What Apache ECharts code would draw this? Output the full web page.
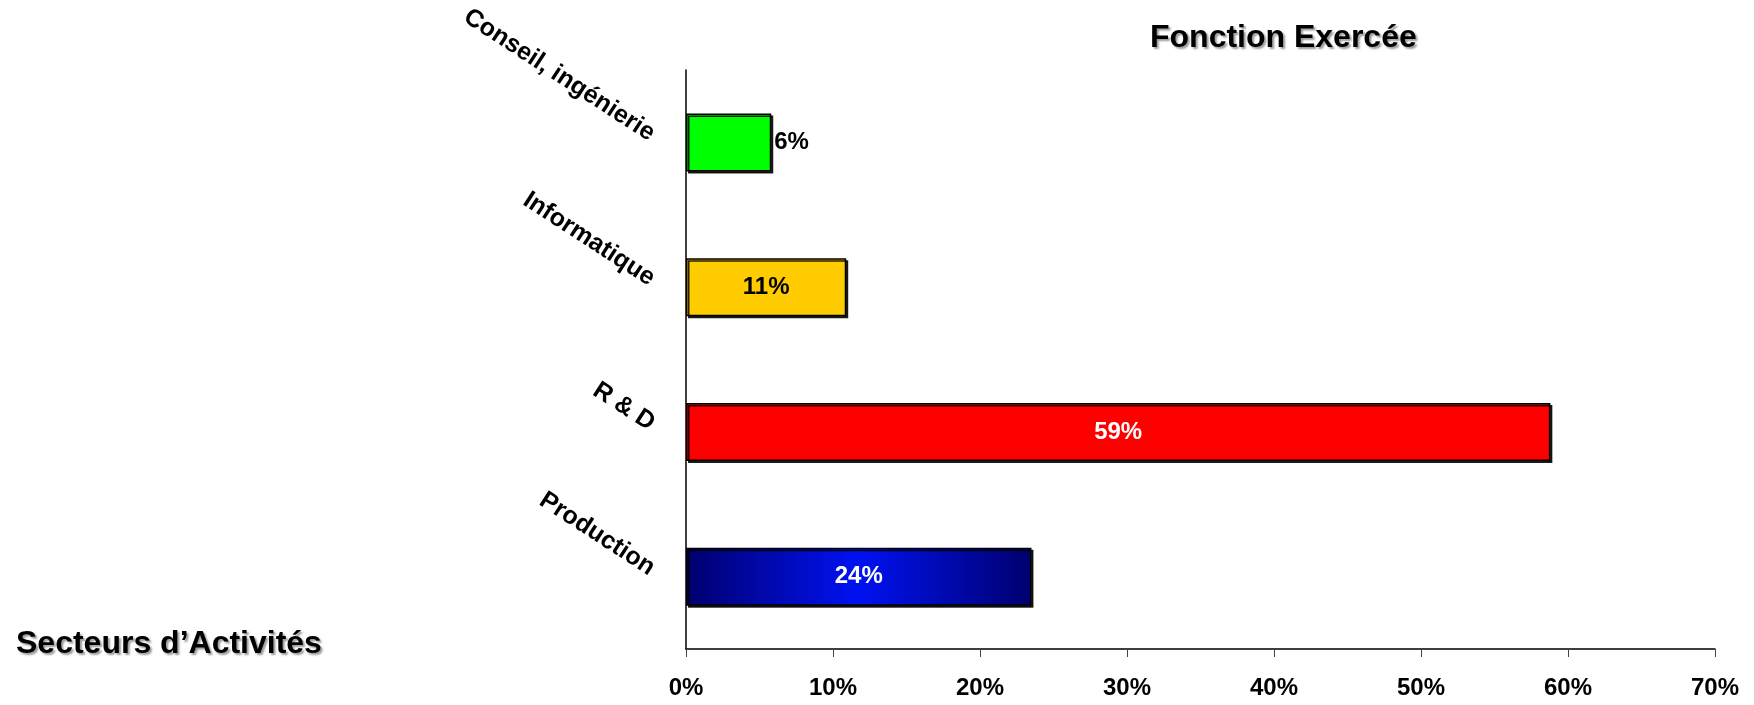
<!DOCTYPE html>
<html>
<head>
<meta charset="utf-8">
<script src="https://cdn.jsdelivr.net/npm/echarts@6/dist/echarts.min.js"></script>
<style>
  html, body { margin: 0; padding: 0; background: #fff; }
  #chart { width: 1754px; height: 705px; }
</style>
</head>
<body>
<div id="chart"></div>
<script>
// secteurs (haut -> bas)
const categories = ['Conseil, ingénierie', 'Informatique', 'R & D', 'Production']
const values = [5.8, 10.9, 58.8, 23.5]
const xTicks = [0, 10, 20, 30, 40, 50, 60, 70]

const font = 'Liberation Sans, Arial, sans-serif'

const barColors = [
  '#00ff00',
  '#ffcc00',
  '#ff0000',
  {
    type: 'linear', x: 0, y: 0, x2: 1, y2: 0,
    colorStops: [
      { offset: 0, color: '#00006e' },
      { offset: 0.5, color: '#0012f2' },
      { offset: 1, color: '#00006e' }
    ]
  }
]

const labelPos = ['right', 'inside', 'inside', 'inside']
const labelColor = ['#000', '#000', '#fff', '#fff']

const chart = echarts.init(document.getElementById('chart'))

const titleStyle = {
  fontFamily: font, fontSize: 32, fontWeight: 'bold', color: '#000', lineHeight: 32,
  textShadowColor: '#9a9a9a', textShadowOffsetX: 2, textShadowOffsetY: 2, textShadowBlur: 2
}

chart.setOption({
  animation: false,
  backgroundColor: '#fff',
  title: [{
    text: 'Fonction Exercée',
    left: 1150,
    top: 22,
    padding: 0,
    textStyle: titleStyle
  }, {
    text: 'Secteurs d’Activités',
    left: 16,
    top: 628,
    padding: 0,
    textStyle: titleStyle
  }],
  grid: { left: 686, right: 39, top: 70, bottom: 56, containLabel: false, outerBoundsMode: 'none' },
  xAxis: {
    type: 'value',
    min: xTicks[0],
    max: xTicks[xTicks.length - 1],
    interval: 10,
    splitLine: { show: false },
    axisLine: { show: true, lineStyle: { color: '#000', width: 1.5 } },
    axisTick: { show: true, length: 8, lineStyle: { color: '#444', width: 1 } },
    axisLabel: {
      margin: 27,
      fontFamily: font, fontSize: 24, fontWeight: 'bold', color: '#000',
      formatter: v => v + '%'
    }
  },
  yAxis: {
    type: 'category',
    data: categories,
    inverse: true,
    axisLine: { show: true, lineStyle: { color: '#000', width: 1.5 } },
    axisTick: { show: false },
    axisLabel: {
      rotate: -33,
      margin: 38,
      align: 'right',
      verticalAlign: 'bottom',
      lineHeight: 16,
      fontFamily: font, fontSize: 25, fontWeight: 'bold', color: '#000'
    }
  },
  series: [{
    type: 'bar',
    barWidth: 58,
    data: values.map((v, i) => ({
      value: v,
      itemStyle: { color: barColors[i] },
      label: { position: labelPos[i], color: labelColor[i] }
    })),
    itemStyle: {
      borderColor: '#000',
      borderWidth: 1.5,
      shadowColor: 'rgba(0,0,0,0.85)',
      shadowOffsetX: 2,
      shadowOffsetY: 2,
      shadowBlur: 0
    },
    label: {
      show: true,
      distance: 3,
      fontFamily: font, fontSize: 24, fontWeight: 'bold',
      formatter: p => Math.round(p.value) + '%'
    }
  }]
})
</script>
</body>
</html>
